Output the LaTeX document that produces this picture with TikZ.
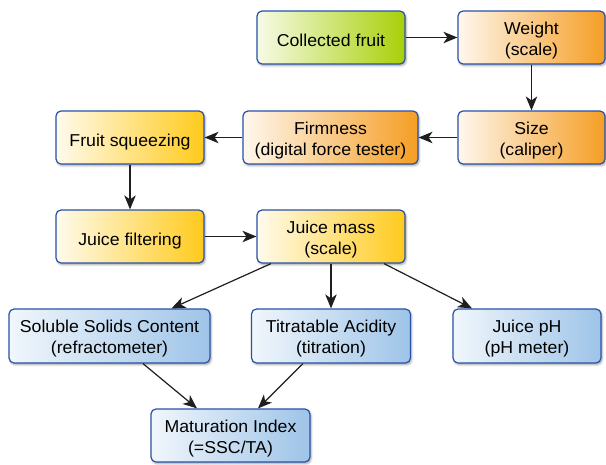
\documentclass[tikz,border=0pt]{standalone}
\usepackage{fontspec}
\setmainfont{Liberation Sans}[FakeStretch=1.03]
\usetikzlibrary{arrows.meta,shadows.blur}
\definecolor{cgreen}{RGB}{168,208,8}
\definecolor{corange}{RGB}{245,158,36}
\definecolor{cyellow}{RGB}{255,202,28}
\definecolor{cblue}{RGB}{158,196,232}
\definecolor{cborder}{RGB}{40,82,168}
\definecolor{carrow}{RGB}{30,30,30}
\tikzset{
  box/.style={draw=cborder, line width=1.2pt, rounded corners=5pt, align=center,
    minimum height=53pt, inner sep=0pt, text height=39.5pt,
    font=\fontsize{17.2}{21}\selectfont,
    blur shadow={shadow xshift=1.2pt, shadow yshift=-1.8pt, shadow blur radius=2pt, shadow opacity=35}},
  oneline/.style={text height=18.5pt, text depth=0pt},
  gbox/.style={box, left color=cgreen!10!white, right color=cgreen},
  obox/.style={box, left color=corange!8!white, right color=corange},
  ybox/.style={box, left color=cyellow!8!white, right color=cyellow},
  bbox/.style={box, left color=cblue!15!white, right color=cblue},
  conn/.style={draw=carrow, line width=1.2pt, -{Stealth[length=14pt,width=11.5pt,inset=4pt]}}
}
\begin{document}
\begin{tikzpicture}[x=1pt,y=-1pt]
\path[use as bounding box] (0,0) rectangle (606,464);
\node[gbox, oneline, minimum width=148pt] (cf) at (331,37.5) {Collected fruit};
\node[obox, minimum width=147pt] (wt) at (531.5,37.5) {Weight\\(scale)};
\node[obox, minimum width=147pt] (sz) at (531.5,137.5) {Size\\(caliper)};
\node[obox, minimum width=175pt] (fm) at (330.5,137.5) {Firmness\\(digital force tester)};
\node[ybox, oneline, minimum width=148pt] (fs) at (130,137.5) {Fruit squeezing};
\node[ybox, oneline, minimum width=148pt] (jf) at (130,236.5) {Juice filtering};
\node[ybox, minimum width=148pt] (jm) at (331,236.5) {Juice mass\\(scale)};
\node[bbox, minimum width=201pt, minimum height=54pt] (ssc) at (109.5,336) {Soluble Solids Content\\(refractometer)};
\node[bbox, minimum width=159pt, minimum height=54pt] (ta) at (331,336) {Titratable Acidity\\(titration)};
\node[bbox, minimum width=148pt, minimum height=54pt] (ph) at (527,336) {Juice pH\\(pH meter)};
\node[bbox, minimum width=159pt, minimum height=53pt] (mi) at (230.5,435.5) {Maturation Index\\(=SSC/TA)};
\draw[conn] (cf) -- (wt);
\draw[conn] (wt) -- (sz);
\draw[conn] (sz) -- (fm);
\draw[conn] (fm) -- (fs);
\draw[conn] (fs) -- (jf);
\draw[conn] (jf) -- (jm);
\draw[conn] (jm) -- (ta);
\draw[conn] ([xshift=-60pt]jm.south) -- ([xshift=62pt]ssc.north);
\draw[conn] ([xshift=53pt]jm.south) -- ([xshift=-55pt]ph.north);
\draw[conn] ([xshift=33.5pt]ssc.south) -- ([xshift=-33.5pt]mi.north);
\draw[conn] ([xshift=-28pt]ta.south) -- ([xshift=27.5pt]mi.north);
\end{tikzpicture}
\end{document}
